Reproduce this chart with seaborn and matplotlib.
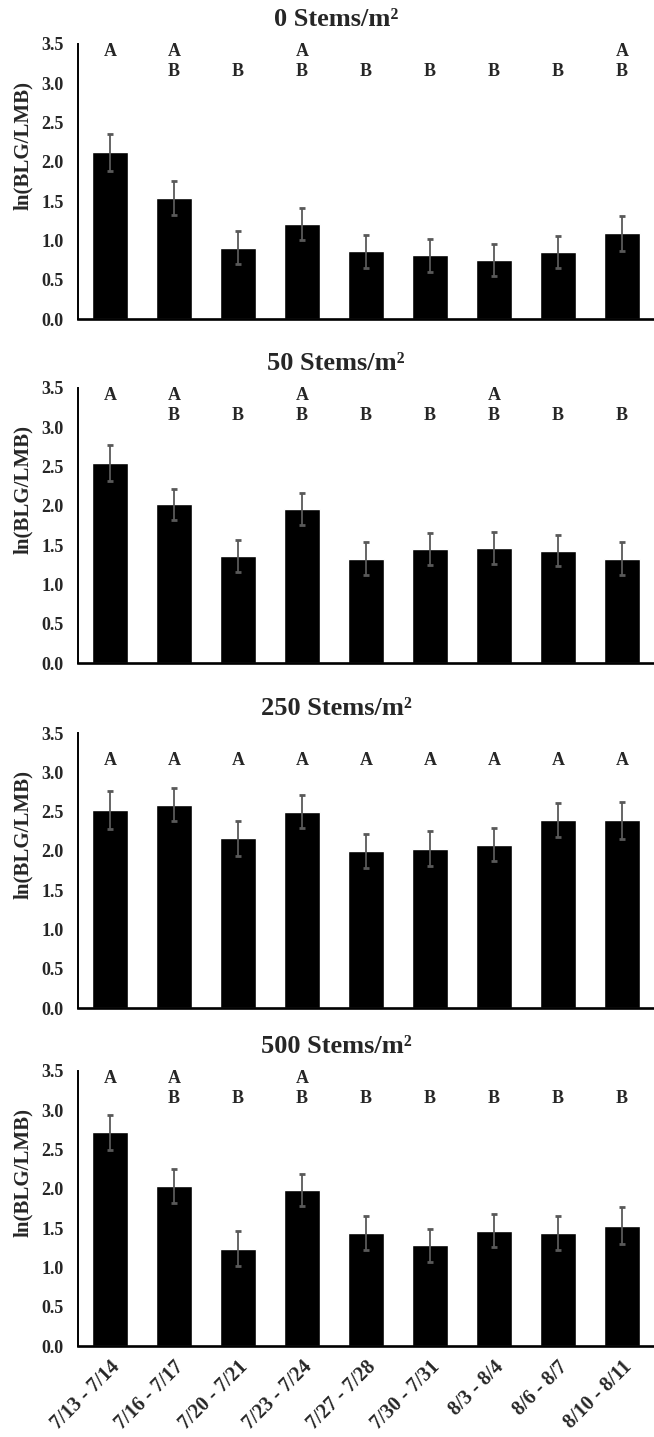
import numpy as np
import pandas as pd
import matplotlib
matplotlib.use("Agg")
import matplotlib.pyplot as plt
import seaborn as sns

# sampling periods (x categories)
periods = ["7/13 - 7/14", "7/16 - 7/17", "7/20 - 7/21", "7/23 - 7/24", "7/27 - 7/28",
           "7/30 - 7/31", "8/3 - 8/4", "8/6 - 8/7", "8/10 - 8/11"]

titles = ["0 Stems/m²", "50 Stems/m²", "250 Stems/m²", "500 Stems/m²"]

# ln(BLG/LMB) means and standard errors
ratio_0 = [2.12, 1.54, 0.91, 1.21, 0.86, 0.81, 0.75, 0.85, 1.09]
se_0 = [0.235, 0.215, 0.21, 0.205, 0.21, 0.21, 0.20, 0.205, 0.225]

ratio_50 = [2.55, 2.02, 1.36, 1.96, 1.33, 1.45, 1.46, 1.43, 1.33]
se_50 = [0.23, 0.20, 0.205, 0.205, 0.205, 0.205, 0.205, 0.20, 0.215]

ratio_250 = [2.52, 2.59, 2.16, 2.50, 2.00, 2.03, 2.08, 2.39, 2.39]
se_250 = [0.245, 0.21, 0.22, 0.205, 0.22, 0.22, 0.215, 0.215, 0.235]

ratio_500 = [2.72, 2.04, 1.24, 1.99, 1.44, 1.28, 1.47, 1.44, 1.53]
se_500 = [0.22, 0.215, 0.22, 0.205, 0.215, 0.205, 0.215, 0.22, 0.235]

# significance letters (upper row / lower row)
top_0 = ["A", "A", "", "A", "", "", "", "", "A"]
low_0 = ["", "B", "B", "B", "B", "B", "B", "B", "B"]
top_50 = ["A", "A", "", "A", "", "", "A", "", ""]
low_50 = ["", "B", "B", "B", "B", "B", "B", "B", "B"]
top_250 = ["", "", "", "", "", "", "", "", ""]
low_250 = ["A", "A", "A", "A", "A", "A", "A", "A", "A"]
top_500 = ["A", "A", "", "A", "", "", "", "", ""]
low_500 = ["", "B", "B", "B", "B", "B", "B", "B", "B"]

panels = [
    (ratio_0, se_0, top_0, low_0),
    (ratio_50, se_50, top_50, low_50),
    (ratio_250, se_250, top_250, low_250),
    (ratio_500, se_500, top_500, low_500),
]

sns.set_style("white")
plt.rcParams["font.family"] = ["Liberation Serif", "DejaVu Serif"]
plt.rcParams["font.weight"] = "bold"

fig = plt.figure(figsize=(6.54, 14.37), dpi=100)
bottoms = [0.778, 0.5386, 0.2985, 0.0633]

for i, (vals, se, top, low) in enumerate(panels):
    ax = fig.add_axes([0.119, bottoms[i], 0.881, 0.1914])
    df = pd.DataFrame({"period": periods, "ratio": vals})
    sns.barplot(data=df, x="period", y="ratio", order=periods, color="black",
                saturation=1, width=0.56, errorbar=None, ax=ax)
    xs = [p.get_x() + p.get_width() / 2 for p in ax.patches]
    ax.errorbar(xs, vals, yerr=se, fmt="none", ecolor="#595959",
                elinewidth=1.3, capsize=2.5, capthick=2)
    for x, t, b in zip(xs, top, low):
        if t:
            ax.text(x, 3.40, t, ha="center", va="center", fontsize=13, fontweight="bold")
        if b:
            ax.text(x, 3.15, b, ha="center", va="center", fontsize=13, fontweight="bold")

    ax.set_xlim(-0.5, len(periods) - 0.5)
    ax.set_ylim(0, 3.5)
    ax.set_yticks(np.arange(0, 3.51, 0.5))
    ax.set_yticklabels([f"{v:.1f}" for v in np.arange(0, 3.51, 0.5)])
    ax.set_xlabel("")
    ax.set_ylabel("ln(BLG/LMB)", fontsize=15, fontweight="bold")
    ax.yaxis.set_label_coords(-0.078, 0.63)
    ax.set_title(titles[i], fontsize=19, fontweight="bold", x=0.448, pad=13)
    ax.tick_params(axis="both", length=0, labelsize=13)
    ax.tick_params(axis="y", pad=10)
    sns.despine(ax=ax)
    ax.spines["left"].set_linewidth(1.4)
    ax.spines["bottom"].set_linewidth(1.9)
    ax.spines["left"].set_color("black")
    ax.spines["bottom"].set_color("black")

    if i < 3:
        ax.tick_params(axis="x", labelbottom=False)
    else:
        ax.tick_params(axis="x", pad=8, labelsize=14.5)
        plt.setp(ax.get_xticklabels(), rotation=45, ha="right",
                 rotation_mode="anchor", fontweight="bold")

fig.savefig("out.png", dpi=100)
